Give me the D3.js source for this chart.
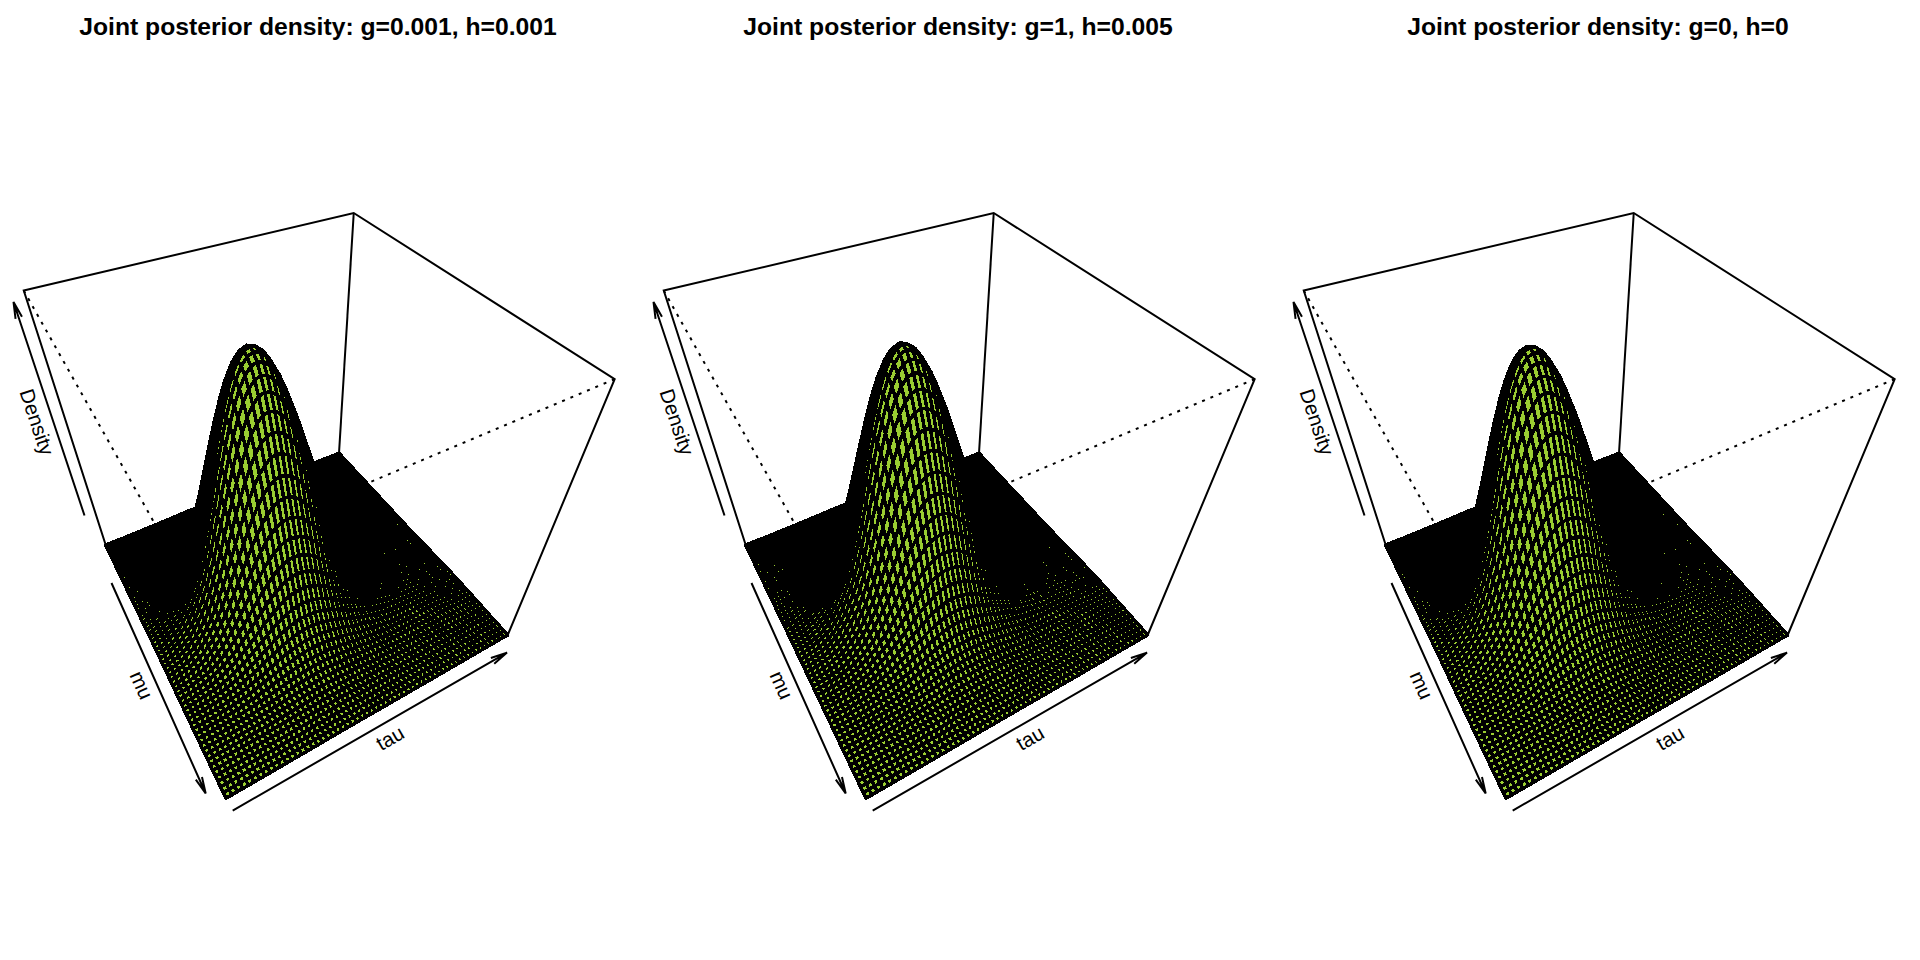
<!DOCTYPE html>
<html>
<head>
<script src="https://d3js.org/d3.v7.min.js"></script>
<style>
  html, body { margin: 0; background: #fff; }
  svg { display: block; }
  text { font-family: "Liberation Sans", Arial, sans-serif; fill: #000; }
  .mesh path { fill: #9ACD32; stroke: #000; stroke-width: 3.5; stroke-linejoin: round; shape-rendering: crispEdges; }
  .box { fill: none; stroke: #000; stroke-width: 2; }
  .dots { stroke-dasharray: 3 6; }
</style>
</head>
<body>
<svg width="1920" height="960"></svg>
<script>
// panel text and the small differences between panels
const titles = [
  "Joint posterior density: g=0.001, h=0.001",
  "Joint posterior density: g=1, h=0.005",
  "Joint posterior density: g=0, h=0"
];
const firstTauColumn = [3, 1, 3];
const densityTop = [1030, 1035, 1033];
const axisNames = ["Density", "mu", "tau"];

// density, rows are mu steps, columns are tau steps
const density = [
[0,0,0,0,0,0,0,0,1,1,1,1,2,2,3,3,4,4,5,6,6,7,8,8,8,9,9,9,9,9,9,8,8,7,7,6,6,5,4,4,3,3,2,2,2,1,1,1,1,1,0,0,0,0,0,0,0,0,0,0,0,0,0,0],
[0,0,0,0,0,0,0,1,1,1,1,2,2,3,4,4,5,6,7,8,8,9,10,11,11,12,12,12,12,12,11,11,10,10,9,8,7,7,6,5,4,4,3,3,2,2,1,1,1,1,1,0,0,0,0,0,0,0,0,0,0,0,0,0],
[0,0,0,0,0,1,1,1,1,2,2,3,3,4,5,6,7,8,9,11,12,13,14,15,16,17,17,17,17,17,16,15,15,14,13,12,11,9,8,7,6,5,5,4,3,2,2,2,1,1,1,1,0,0,0,0,0,0,0,0,0,0,0,0],
[0,0,0,0,0,1,1,1,2,2,3,4,5,6,7,8,10,11,13,14,16,18,19,20,22,22,23,23,23,22,22,21,20,19,17,16,14,13,11,10,8,7,6,5,4,3,3,2,2,1,1,1,1,0,0,0,0,0,0,0,0,0,0,0],
[0,0,0,0,1,1,1,2,2,3,4,5,6,7,9,11,13,15,17,19,22,24,26,28,29,30,31,31,31,30,29,28,27,25,23,21,19,17,15,13,11,10,8,7,6,5,4,3,2,2,1,1,1,1,0,0,0,0,0,0,0,0,0,0],
[0,0,0,1,1,1,2,2,3,4,5,6,8,10,12,14,17,20,23,26,29,32,34,36,38,40,41,41,41,40,39,37,35,33,31,28,25,23,20,18,15,13,11,9,7,6,5,4,3,2,2,1,1,1,1,0,0,0,0,0,0,0,0,0],
[0,0,1,1,1,2,2,3,4,5,7,8,11,13,16,19,22,26,30,34,38,42,45,48,51,52,54,54,54,53,51,49,47,44,40,37,33,30,26,23,20,17,14,12,10,8,6,5,4,3,2,2,1,1,1,1,1,1,0,0,0,0,0,0],
[0,0,1,1,1,2,3,4,5,7,9,11,14,17,21,25,29,34,39,44,49,54,58,62,66,68,70,70,70,68,66,64,60,57,52,48,43,39,34,30,26,22,19,15,13,10,8,7,5,4,3,2,2,1,1,1,0,0,0,0,0,0,0,0],
[0,1,1,1,2,3,4,5,6,8,11,14,17,21,26,31,37,43,49,56,62,69,74,79,83,86,88,89,88,87,84,81,77,72,67,61,55,49,44,38,33,28,24,20,16,13,11,8,7,5,4,3,2,2,1,1,1,0,0,0,0,0,0,0],
[1,1,1,2,2,3,5,6,8,11,14,18,22,27,33,40,47,55,63,71,79,87,94,101,106,110,112,113,112,110,107,103,98,91,85,77,70,63,55,48,42,35,30,25,20,17,13,11,8,6,5,4,3,2,2,1,1,1,0,0,0,0,0,0],
[1,1,2,2,3,4,6,8,10,13,17,22,28,34,41,50,59,68,78,89,99,109,118,125,132,137,140,141,140,138,134,128,122,114,106,97,87,78,69,60,52,44,37,31,26,21,17,13,10,8,6,5,4,3,2,1,1,1,0,0,0,0,0,0],
[1,1,2,3,4,5,7,10,13,17,22,27,34,42,51,62,73,85,97,110,123,135,146,156,164,170,174,175,174,171,166,159,151,142,131,120,109,97,86,75,65,55,46,39,32,26,21,16,13,10,8,6,4,3,2,2,1,1,1,0,0,0,0,0],
[1,1,2,3,4,6,9,12,16,20,26,33,42,51,62,75,89,103,118,134,149,164,178,190,200,207,212,213,212,208,202,194,184,172,160,146,132,118,104,91,79,67,56,47,39,31,25,20,16,12,9,7,5,4,3,2,1,1,1,0,0,0,0,0],
[1,2,3,4,5,8,11,14,19,24,32,40,50,62,75,90,107,124,143,162,180,198,214,229,241,250,255,257,255,251,244,234,222,208,192,176,159,142,126,110,95,81,68,57,47,38,31,24,19,15,11,8,6,5,4,3,2,1,1,1,1,0,0,0],
[2,2,3,5,6,9,13,17,22,29,38,48,60,74,90,108,127,148,170,192,215,236,255,272,287,297,304,306,304,299,290,278,264,248,229,210,190,170,150,131,113,96,81,68,55,45,36,29,23,17,13,10,8,6,4,3,2,2,1,1,1,0,0,0],
[2,3,4,5,8,11,15,20,26,34,44,56,71,87,105,127,150,174,200,226,252,277,300,320,337,350,357,360,358,352,341,328,311,291,270,247,223,199,176,154,133,113,95,80,65,53,43,34,27,21,16,12,9,6,5,4,3,2,1,1,1,0,0,0],
[2,3,5,6,9,13,17,23,31,40,52,65,82,101,123,147,174,203,233,264,294,323,349,373,393,407,416,419,416,409,397,381,362,339,314,287,260,232,205,179,155,132,111,93,76,62,50,39,31,24,18,14,10,8,6,4,3,2,1,1,1,0,0,0],
[2,3,5,7,10,14,20,27,35,46,59,75,94,116,141,170,201,233,268,303,338,371,402,429,452,468,479,482,479,471,457,439,416,390,361,330,299,267,236,206,178,151,128,107,87,71,57,45,36,27,21,16,12,9,7,5,3,2,1,1,1,0,0,0],
[3,4,6,8,11,16,22,30,40,52,67,85,107,132,160,193,228,265,304,344,383,421,456,487,513,531,543,547,544,534,519,498,472,443,410,375,339,303,267,234,202,172,145,121,99,80,65,51,40,31,24,18,14,10,8,5,4,3,2,1,1,1,1,0],
[3,4,7,9,13,18,25,34,45,58,75,96,120,148,180,216,255,297,341,386,430,472,511,546,574,595,609,613,609,599,581,558,529,496,459,420,380,340,300,262,226,192,162,135,111,90,73,58,45,35,27,20,15,11,9,6,4,3,2,1,1,1,1,0],
[3,5,7,10,14,20,28,37,50,65,84,106,133,164,199,239,283,329,378,428,477,524,567,605,637,660,675,680,676,664,645,619,587,550,509,466,422,377,333,290,251,214,180,150,123,100,81,64,50,39,30,22,17,12,10,7,5,3,2,1,1,1,1,0],
[4,5,8,11,16,22,31,41,54,71,92,116,146,179,218,262,310,360,414,468,522,573,620,662,697,722,739,744,740,727,705,677,642,602,557,510,461,412,364,318,275,234,197,164,135,109,89,70,55,42,33,25,19,13,10,7,5,4,2,1,1,1,1,0],
[4,6,9,12,17,24,33,44,59,76,99,126,158,194,236,283,335,390,448,506,564,620,671,716,754,782,799,805,800,786,763,733,695,651,603,551,499,446,394,344,297,253,213,178,146,118,96,76,60,46,35,27,20,14,11,8,6,4,2,2,2,1,1,0],
[4,6,9,13,18,26,35,47,63,82,106,134,169,207,252,303,358,416,478,541,603,662,717,765,806,835,854,860,855,840,815,783,742,696,644,589,533,476,421,367,317,270,228,190,156,126,102,81,64,49,38,28,22,15,12,9,6,4,3,2,2,1,1,0],
[5,6,10,14,19,27,37,50,66,86,112,142,178,219,266,320,378,439,505,571,637,699,757,808,851,882,902,908,903,887,861,826,784,735,680,622,563,503,444,388,335,285,241,201,164,133,108,85,67,52,40,30,23,16,13,9,6,5,3,2,2,1,1,0],
[5,7,10,14,20,28,39,52,69,90,116,148,186,228,277,333,394,458,527,596,664,729,790,843,887,920,940,947,941,925,898,862,817,766,709,649,587,525,463,404,349,297,251,209,171,139,113,89,70,54,42,31,24,17,13,9,7,5,3,2,2,1,1,0],
[5,7,11,15,20,29,40,54,71,93,120,152,191,235,286,344,406,472,543,614,684,752,814,869,915,948,969,976,970,954,925,888,842,790,731,669,605,541,477,417,360,306,259,216,177,143,116,92,72,56,43,32,24,18,14,10,7,5,3,2,2,1,1,0],
[5,7,11,15,21,30,41,55,73,94,122,155,195,240,291,350,414,481,553,625,697,765,829,885,931,965,987,994,988,971,942,905,858,804,745,681,616,551,486,424,367,312,263,220,180,146,118,93,74,57,44,33,25,18,14,10,7,5,3,2,2,1,1,0],
[5,7,11,15,21,30,41,55,73,95,123,156,196,241,293,352,416,484,556,629,701,770,834,890,937,971,993,1000,994,977,948,910,863,809,749,685,620,554,489,427,369,314,265,221,181,148,120,95,75,58,45,34,26,19,15,11,8,6,4,3,3,2,1,0],
[5,7,11,15,21,30,41,55,73,94,122,155,195,240,291,350,414,481,553,625,697,765,829,885,931,965,987,994,988,971,942,905,858,804,745,681,616,551,486,424,367,312,264,221,181,147,119,94,76,59,46,35,27,20,16,12,9,7,5,3,3,2,2,1],
[5,7,11,15,20,29,40,54,71,93,120,152,191,235,286,344,406,472,543,614,684,752,814,869,915,948,969,976,970,954,925,888,842,790,731,669,605,541,477,417,361,307,260,217,178,145,118,94,74,59,46,35,27,21,17,13,10,8,5,4,4,3,2,1],
[5,7,10,14,20,28,39,52,69,90,116,148,186,228,277,333,394,458,527,596,664,729,790,843,887,920,940,947,941,925,898,862,817,766,709,649,587,525,463,405,350,298,252,210,173,141,115,92,73,57,46,35,28,21,17,13,11,8,6,5,4,3,3,1],
[5,6,10,14,19,27,37,50,66,86,112,142,178,219,266,320,378,439,505,571,637,699,757,808,851,882,902,908,903,887,861,826,784,735,680,622,563,503,445,389,336,286,242,203,166,136,111,88,71,56,45,35,28,21,18,14,11,9,7,5,5,4,3,2],
[4,6,9,13,18,26,35,47,63,82,106,134,169,207,252,303,358,416,478,541,603,662,717,765,806,835,854,860,855,840,815,783,742,696,644,589,533,476,422,368,318,271,230,192,159,129,106,85,69,54,43,34,28,21,18,15,11,9,8,6,6,4,4,2],
[4,6,9,12,17,24,33,44,59,76,99,126,158,194,236,283,335,390,448,506,564,620,671,716,754,782,799,805,800,786,763,733,695,651,603,551,499,446,395,345,298,255,215,181,149,122,100,81,65,52,41,34,27,21,18,15,12,10,7,7,6,5,4,3],
[4,5,8,11,16,22,31,41,54,71,92,116,146,179,218,262,310,360,414,468,522,573,620,662,697,722,739,744,740,727,705,677,642,602,557,510,461,412,365,319,277,236,200,167,139,114,94,76,62,50,41,34,28,22,19,16,13,12,9,7,6,6,5,3],
[3,5,7,10,14,20,28,37,50,65,84,106,133,164,199,239,283,329,378,428,477,524,567,605,637,660,675,680,676,664,645,619,587,550,509,466,422,377,334,291,253,216,183,154,127,105,87,71,58,48,39,32,27,22,20,17,14,12,10,8,7,6,5,4],
[3,4,7,9,13,18,25,34,45,58,75,96,120,148,180,216,255,297,341,386,430,472,511,546,574,595,609,613,609,599,581,558,529,496,459,420,380,340,301,264,228,195,165,139,116,96,80,66,54,45,38,32,27,23,21,18,15,13,11,9,8,7,6,4],
[3,4,6,8,11,16,22,30,40,52,67,85,107,132,160,193,228,265,304,344,383,421,456,487,513,531,543,547,544,534,519,498,472,443,410,375,339,303,268,236,205,175,149,126,105,87,74,61,51,43,37,31,28,24,22,18,17,15,13,11,10,8,7,5],
[2,3,5,7,10,14,20,27,35,46,59,75,94,116,141,170,201,233,268,303,338,371,402,429,452,468,479,482,479,471,457,439,416,390,361,330,299,267,238,208,181,154,132,112,94,79,66,55,48,40,35,30,27,24,22,19,17,15,13,11,10,8,7,5],
[2,3,5,6,9,13,17,23,31,40,52,65,82,101,123,147,174,203,233,264,294,323,349,373,393,407,416,419,416,409,397,381,362,339,314,287,260,232,207,181,158,136,116,99,83,71,60,51,44,38,33,30,27,25,23,20,18,16,14,13,11,9,7,6],
[2,3,4,5,8,11,15,20,26,34,44,56,71,87,105,127,150,174,200,226,252,277,300,320,337,350,357,360,358,352,341,328,311,291,270,247,223,199,178,157,136,117,100,86,73,62,54,46,41,36,32,29,27,24,23,21,19,17,15,13,12,9,8,6],
[2,2,3,5,6,9,13,17,22,29,38,48,60,74,90,108,127,148,170,192,215,236,255,272,287,297,304,306,304,299,290,278,264,248,229,210,190,170,152,134,116,100,87,75,63,55,48,42,38,33,30,28,27,25,23,21,19,18,16,14,13,10,8,7],
[1,2,3,4,5,8,11,14,19,24,32,40,50,62,75,90,107,124,143,162,180,198,214,229,241,250,255,257,255,251,244,234,222,208,192,176,159,142,128,113,99,86,74,64,56,48,43,38,35,32,29,27,26,25,24,22,20,18,17,15,13,10,9,7],
[1,1,2,3,4,6,9,12,16,20,26,33,42,51,62,75,89,103,118,134,149,164,178,190,200,207,212,213,212,208,202,194,184,172,160,146,132,118,106,94,83,72,62,54,48,41,37,34,32,29,27,26,25,24,23,21,19,18,17,14,12,10,9,7],
[1,1,2,3,4,5,7,10,13,17,22,27,34,42,51,62,73,85,97,110,123,135,146,156,164,170,174,175,174,171,166,159,151,142,131,120,109,97,88,78,69,60,52,46,41,36,33,30,29,27,26,25,24,23,22,21,19,18,17,14,12,10,9,7],
[1,1,2,2,3,4,6,8,10,13,17,22,28,34,41,50,59,68,78,89,99,109,118,125,132,137,140,141,140,138,134,128,122,114,106,97,87,78,71,63,55,48,43,38,34,31,29,26,25,24,23,23,23,22,21,19,18,17,15,13,12,10,8,7],
[1,1,1,2,2,3,5,6,8,11,14,18,22,27,33,40,47,55,63,71,79,87,94,101,106,110,112,113,112,110,107,103,98,91,85,77,70,63,57,51,45,39,35,31,28,26,24,23,22,21,21,21,21,20,20,18,17,16,14,12,11,9,8,6],
[0,1,1,1,2,3,4,5,6,8,11,14,17,21,26,31,37,43,49,56,62,69,74,79,83,86,88,89,88,87,84,81,77,72,67,61,55,49,46,40,36,32,29,26,23,22,21,20,20,19,19,19,19,19,18,17,16,14,13,12,10,9,7,6],
[0,0,1,1,1,2,3,4,5,7,9,11,14,17,21,25,29,34,39,44,49,54,58,62,66,68,70,70,70,68,66,64,60,57,52,48,43,39,36,32,29,25,23,20,20,18,17,17,17,17,17,16,17,16,16,15,14,13,12,10,9,8,7,5],
[0,0,1,1,1,2,2,3,4,5,7,8,11,13,16,19,22,26,30,34,38,42,45,48,51,52,54,54,54,53,51,49,47,44,40,37,33,30,27,25,23,20,18,17,16,15,15,15,15,15,15,15,15,15,15,14,13,12,11,10,9,7,6,5],
[0,0,0,1,1,1,2,2,3,4,5,6,8,10,12,14,17,20,23,26,29,32,34,36,38,40,41,41,41,40,39,37,35,33,31,28,25,23,21,20,17,16,14,13,12,12,12,12,12,12,13,13,13,13,13,12,11,10,9,8,7,6,5,4],
[0,0,0,0,1,1,1,2,2,3,4,5,6,7,9,11,13,15,17,19,22,24,26,28,29,30,31,31,31,30,29,28,27,25,23,21,19,17,16,14,13,12,11,11,10,10,10,10,10,11,10,11,11,11,10,10,9,9,8,7,6,5,4,4],
[0,0,0,0,0,1,1,1,2,2,3,4,5,6,7,8,10,11,13,14,16,18,19,20,22,22,23,23,23,22,22,21,20,19,17,16,14,13,12,11,10,9,9,8,8,8,8,8,9,9,9,10,10,9,9,9,8,8,7,6,5,5,4,3],
[0,0,0,0,0,1,1,1,1,2,2,3,3,4,5,6,7,8,9,11,12,13,14,15,16,17,17,17,17,17,16,15,15,14,13,12,11,9,9,8,7,7,7,7,6,6,6,7,6,7,7,8,7,7,7,7,6,6,5,5,4,4,3,3],
[0,0,0,0,0,0,0,1,1,1,1,2,2,3,4,4,5,6,7,8,8,9,10,11,11,12,12,12,12,12,11,11,10,10,9,8,7,7,7,6,5,5,5,5,5,5,5,5,6,6,6,6,6,6,6,6,5,5,5,4,4,3,3,2],
[0,0,0,0,0,0,0,0,1,1,1,1,2,2,3,3,4,4,5,6,6,7,8,8,8,9,9,9,9,9,9,8,8,7,7,6,6,5,5,5,4,4,3,4,4,4,4,4,5,5,5,5,5,5,5,5,5,4,4,3,3,3,2,2],
[0,0,0,0,0,0,0,0,0,1,1,1,1,1,2,2,2,3,3,4,4,5,5,5,6,6,6,6,6,6,6,5,5,5,4,4,4,3,3,4,3,3,3,2,3,3,3,4,3,3,4,4,4,4,4,4,4,3,3,3,2,2,2,1],
[0,0,0,0,0,0,0,0,0,0,0,0,1,1,1,1,2,2,2,3,3,3,3,4,4,4,4,4,4,4,4,4,3,3,3,3,2,2,2,2,2,2,2,2,2,3,2,2,2,3,3,3,3,3,3,3,3,3,2,2,2,2,1,1],
[0,0,0,0,0,0,0,0,0,0,0,0,0,0,1,1,1,1,2,2,2,2,3,3,3,3,3,3,3,3,3,3,2,2,2,2,2,2,1,1,1,1,2,2,2,1,1,1,2,2,2,2,2,2,2,2,2,2,2,1,1,1,1,1],
[0,0,0,0,0,0,0,0,0,0,0,0,0,0,1,1,1,1,1,1,1,1,2,2,2,2,2,2,2,2,2,2,2,1,1,1,1,1,1,1,1,1,1,0,0,1,1,1,1,1,1,1,1,1,1,1,1,1,1,1,1,1,0,0]
];

const svg = d3.select("svg");
const panelStep = 640;
const gridCells = 60;

// where the box of the first panel lands on the page
const floorLeft = [105.7, 545], floorFront = [226, 798.3], floorRight = [507.7, 635], floorBack = [339, 453.3];
const verticalVanish = [297, 1139];
const topBackY = 213;

const muScale = d3.scaleLinear().domain([0, gridCells]).range([0, 1]);
const tauScale = d3.scaleLinear().domain([0, gridCells]).range([0, 1]);

// camera: floor homography plus a column for the vertical direction
function makeCamera() {
  const [x0, y0] = floorLeft, [x1, y1] = floorFront, [x2, y2] = floorRight, [x3, y3] = floorBack;
  const dx1 = x1 - x2, dx2 = x3 - x2, sx = x0 - x1 + x2 - x3;
  const dy1 = y1 - y2, dy2 = y3 - y2, sy = y0 - y1 + y2 - y3;
  const den = dx1 * dy2 - dx2 * dy1;
  const g = (sx * dy2 - dx2 * sy) / den;
  const h = (dx1 * sy - sx * dy1) / den;
  const a = x1 - x0 + g * x1, b = x3 - x0 + h * x3;
  const d = y1 - y0 + g * y1, e = y3 - y0 + h * y3;
  const wBack = h + 1;
  const k = wBack * (topBackY - y3) / (verticalVanish[1] - topBackY);
  return function(u, v, w) {
    const q = g * u + h * v + 1 + k * w;
    return [
      (a * u + b * v + x0 + k * verticalVanish[0] * w) / q,
      (d * u + e * v + y0 + k * verticalVanish[1] * w) / q
    ];
  };
}
const project = makeCamera();

const line = d3.line();

function arrow(g, from, to) {
  const ang = Math.atan2(to[1] - from[1], to[0] - from[0]);
  const size = 17, spread = 0.2;
  const p = d3.path();
  p.moveTo(from[0], from[1]);
  p.lineTo(to[0], to[1]);
  p.moveTo(to[0] - size * Math.cos(ang - spread), to[1] - size * Math.sin(ang - spread));
  p.lineTo(to[0], to[1]);
  p.lineTo(to[0] - size * Math.cos(ang + spread), to[1] - size * Math.sin(ang + spread));
  g.append("path").attr("d", p.toString()).attr("fill", "none").attr("stroke", "#000").attr("stroke-width", 2);
}

const axisArrows = [
  { name: axisNames[0], from: [84.5, 515.5], to: [13.5, 302], at: [37, 422], rot: 71.5 },
  { name: axisNames[1], from: [111.5, 583], to: [205.7, 793.5], at: [141.7, 685], rot: 66 },
  { name: axisNames[2], from: [232.7, 810.6], to: [507, 652.6], at: [390, 738], rot: -30 }
];

titles.forEach(function(title, p) {
  const g = svg.append("g").attr("transform", "translate(" + (panelStep * p) + ",0)");
  const zScale = d3.scaleLinear().domain([0, densityTop[p]]).range([0, 1]);

  g.append("text")
    .attr("x", 318).attr("y", 35)
    .attr("text-anchor", "middle")
    .attr("font-size", 24.7).attr("font-weight", "bold")
    .text(title);

  // hidden box edges go behind the surface
  const hidden = [
    [[0, 0, 1], [1, 0, 1]],
    [[1, 1, 1], [1, 0, 1]],
    [[1, 0, 0], [1, 0, 1]]
  ];
  g.selectAll("path.hidden").data(hidden).join("path")
    .attr("class", "hidden box dots")
    .attr("d", d => line(d.map(c => project(c[0], c[1], c[2]))));

  const solid = [
    [[0, 0, 0], [0, 0, 1], [0, 1, 1], [1, 1, 1], [1, 1, 0]],
    [[0, 1, 0], [0, 1, 1]],
    [[0, 0, 0], [0, 1, 0], [1, 1, 0], [1, 0, 0], [0, 0, 0]]
  ];
  g.selectAll("path.solid").data(solid).join("path")
    .attr("class", "solid box")
    .attr("d", d => line(d.map(c => project(c[0], c[1], c[2]))));

  // back to front: far mu rows first, far tau columns first
  const first = firstTauColumn[p];
  const cells = [];
  const point = (i, j) => project(muScale(i), tauScale(j), zScale(density[i][j + first]));
  for (let i = 0; i < gridCells; i++) {
    for (let j = gridCells - 1; j >= 0; j--) {
      cells.push([point(i, j), point(i, j + 1), point(i + 1, j + 1), point(i + 1, j)]);
    }
  }
  g.append("g").attr("class", "mesh")
    .selectAll("path").data(cells).join("path")
    .attr("d", d => line(d) + "Z");

  axisArrows.forEach(function(ax) {
    arrow(g, ax.from, ax.to);
    g.append("text")
      .attr("transform", "translate(" + ax.at[0] + "," + ax.at[1] + ") rotate(" + ax.rot + ")")
      .attr("text-anchor", "middle")
      .attr("dy", "0.35em")
      .attr("font-size", 20.5)
      .text(ax.name);
  });
});
</script>
</body>
</html>
